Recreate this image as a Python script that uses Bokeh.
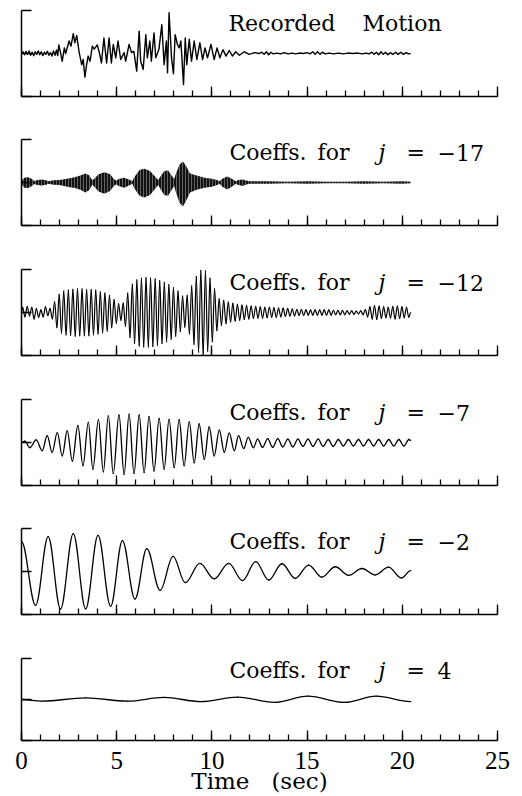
import numpy as np
from bokeh.plotting import figure
from bokeh.layouts import column
from bokeh.models import (Range1d, FixedTicker, SingleIntervalTicker, Label,
                          ColumnDataSource, CustomLabelingPolicy)
from bokeh.embed import file_html
from bokeh.resources import INLINE

# ---------------------------------------------------------------- data
# Recorded ground motion (time in s, normalised amplitude)
MOTION_T = [0.00, 0.08, 0.16, 0.24, 0.32, 0.40, 0.48, 0.56, 0.64, 0.72, 0.80, 0.88, 0.96,
            1.04, 1.12, 1.20, 1.28, 1.36, 1.44, 1.52, 1.60, 1.68, 1.76, 1.84, 1.90,
            1.96, 2.05, 2.14, 2.25, 2.32, 2.50, 2.60, 2.72, 2.80, 2.90, 3.02, 3.16, 3.24,
            3.33, 3.42, 3.50, 3.60, 3.72, 3.82, 3.98, 4.10, 4.20, 4.33, 4.47, 4.60, 4.72,
            4.82, 4.95, 5.07, 5.21, 5.39, 5.47, 5.65, 5.78, 5.90, 6.05, 6.18, 6.26, 6.39,
            6.53, 6.61, 6.74, 6.82, 6.96, 7.05, 7.22, 7.37, 7.49, 7.61, 7.67, 7.75, 7.88,
            7.98, 8.07, 8.19, 8.28, 8.37, 8.51, 8.60, 8.68, 8.81, 8.93, 9.07, 9.21, 9.37,
            9.51, 9.64, 9.77, 9.95, 10.12, 10.27, 10.42, 10.58, 10.74, 10.91, 11.08, 11.25,
            11.44, 11.70, 11.96, 12.23, 12.50, 12.62, 12.74, 12.86, 12.98, 13.10, 13.22,
            13.40, 13.60, 13.80, 14.00, 14.20, 14.40, 14.60, 14.80, 15.00, 15.15, 15.30,
            15.42, 15.55, 15.68, 15.80, 15.95, 16.15, 16.40, 16.65, 16.90, 17.15, 17.40,
            17.65, 17.90, 18.10, 18.25, 18.40, 18.52, 18.64, 18.76, 18.88, 19.00, 19.12,
            19.24, 19.36, 19.50, 19.65, 19.78, 19.92, 20.06, 20.20, 20.32, 20.44]
MOTION_V = [0.00, 0.04, -0.03, 0.05, -0.02, 0.06, -0.04, 0.03, -0.05, 0.04, -0.02, 0.06, -0.03,
            0.04, -0.05, 0.03, -0.02, 0.05, -0.04, 0.02, -0.06, 0.06, -0.04, 0.08, -0.05,
            0.20, 0.02, -0.18, 0.13, 0.00, 0.29, 0.17, 0.46, 0.25, 0.42, 0.05, -0.26, -0.14,
            -0.55, -0.26, -0.06, -0.18, 0.17, 0.10, 0.20, 0.00, -0.22, 0.36, -0.22, 0.36, -0.22,
            0.21, -0.10, 0.29, -0.14, 0.02, -0.18, 0.21, 0.02, 0.05, -0.41, 0.52, -0.18, -0.37,
            0.44, -0.10, 0.29, -0.18, 0.48, -0.10, 0.10, 0.67, -0.26, 0.29, -0.45, 0.95, -0.10,
            -0.47, 0.44, 0.21, 0.13, 0.29, -0.72, 0.36, -0.26, 0.33, -0.18, 0.29, -0.14, 0.25,
            -0.14, 0.13, -0.10, 0.21, -0.14, 0.13, -0.10, 0.09, -0.06, 0.07, -0.06, 0.04,
            -0.04, 0.04, -0.02, 0.02, 0.00, 0.03, -0.02, 0.04, -0.03, 0.03, -0.01,
            0.01, -0.01, 0.02, -0.01, 0.01, -0.01, 0.01, 0.00, 0.02, -0.01, 0.04,
            -0.02, 0.04, -0.02, 0.03, -0.01, 0.01, -0.01, 0.01, -0.01, 0.01, 0.00,
            0.01, -0.01, 0.01, -0.01, 0.03, -0.02, 0.03, -0.03, 0.04, -0.02, 0.03,
            -0.03, 0.02, -0.02, 0.03, -0.02, 0.03, -0.02, 0.02, -0.01, 0.00]

# j = -17: envelope of the (unresolvable) fast oscillation
J17_T = [0.00, 0.15, 0.35, 0.55, 0.68, 0.78, 1.05, 1.30, 1.40, 1.70, 2.00, 2.40, 2.80,
         3.10, 3.35, 3.55, 3.72, 3.85, 4.05, 4.35, 4.65, 4.85, 4.98, 5.10, 5.40, 5.70,
         5.82, 5.95, 6.20, 6.45, 6.75, 7.05, 7.18, 7.30, 7.50, 7.70, 7.90, 8.02, 8.10,
         8.30, 8.48, 8.65, 8.85, 9.20, 9.60, 10.00, 10.30, 10.40, 10.55, 10.80, 11.05,
         11.25, 11.35, 11.60, 11.85, 12.00, 13.00, 14.00, 15.00, 16.00, 17.00, 18.00,
         19.00, 20.00, 20.44]
J17_UPPER = [0.04, 0.11, 0.12, 0.08, 0.03, 0.05, 0.07, 0.05, 0.03, 0.05,
             0.06, 0.09, 0.12, 0.16, 0.21, 0.17, 0.05, 0.10, 0.19, 0.24,
             0.19, 0.08, 0.04, 0.08, 0.11, 0.06, 0.03, 0.14, 0.29, 0.32,
             0.27, 0.12, 0.06, 0.14, 0.27, 0.28, 0.15, 0.08, 0.19, 0.42,
             0.49, 0.38, 0.21, 0.16, 0.11, 0.09, 0.05, 0.03, 0.09, 0.14,
             0.09, 0.03, 0.05, 0.07, 0.04, 0.03, 0.03, 0.02, 0.03, 0.02,
             0.02, 0.03, 0.02, 0.03, 0.02]
J17_LOWER = [-0.04, -0.12, -0.13, -0.08, -0.03, -0.05, -0.07, -0.05, -0.03, -0.05,
             -0.06, -0.10, -0.13, -0.17, -0.23, -0.18, -0.05, -0.11, -0.21, -0.26,
             -0.20, -0.08, -0.04, -0.08, -0.12, -0.06, -0.03, -0.15, -0.31, -0.35,
             -0.29, -0.13, -0.06, -0.15, -0.29, -0.31, -0.16, -0.08, -0.21, -0.47,
             -0.56, -0.42, -0.23, -0.17, -0.12, -0.10, -0.05, -0.03, -0.10, -0.16,
             -0.10, -0.03, -0.05, -0.08, -0.04, -0.03, -0.03, -0.02, -0.03, -0.02,
             -0.02, -0.03, -0.02, -0.03, -0.02]

# j = -12: successive peaks and troughs
J12_T = [0.00, 0.06, 0.18, 0.30, 0.42, 0.54, 0.66, 0.78, 0.90, 1.02, 1.14, 1.26, 1.38, 1.50,
         1.62, 1.74, 1.86, 1.98, 2.10,
         2.22, 2.34, 2.46, 2.58, 2.70, 2.82, 2.94, 3.06, 3.18, 3.30, 3.42, 3.54, 3.66, 3.78,
         3.90, 4.02, 4.14, 4.26, 4.38, 4.50,
         4.62, 4.74, 4.86, 4.98, 5.10, 5.22,
         5.34, 5.46, 5.58, 5.70,
         5.82, 5.94, 6.06, 6.18, 6.30, 6.42, 6.54, 6.66, 6.78, 6.90, 7.02, 7.14, 7.26, 7.38,
         7.50, 7.62, 7.74, 7.86, 7.98, 8.10,
         8.22, 8.34, 8.46, 8.58, 8.70,
         8.82, 8.94, 9.06, 9.18, 9.30, 9.42, 9.54, 9.66, 9.78, 9.90, 10.02, 10.14, 10.26,
         10.38, 10.50, 10.62, 10.74, 10.86, 10.98, 11.10, 11.22, 11.34,
         11.46, 11.58, 11.70, 11.82, 11.94, 12.06, 12.18, 12.30, 12.42, 12.54, 12.66, 12.78,
         12.90, 13.02, 13.14, 13.26, 13.38, 13.50, 13.62, 13.74, 13.86,
         13.98, 14.10, 14.22, 14.34, 14.46, 14.58, 14.70, 14.82, 14.94, 15.06, 15.18, 15.30,
         15.42, 15.54, 15.66, 15.78, 15.90, 16.02, 16.14, 16.26, 16.38, 16.50, 16.62, 16.74,
         16.86, 16.98, 17.10, 17.22, 17.34, 17.46, 17.58, 17.70, 17.82,
         17.94, 18.06, 18.18, 18.30, 18.42, 18.54, 18.66, 18.78, 18.90, 19.02, 19.14, 19.26,
         19.38, 19.50, 19.62, 19.74, 19.86, 19.98, 20.10, 20.22, 20.34, 20.44]
J12_V = [0.00, 0.12, -0.10, 0.14, -0.08, 0.12, -0.15, 0.09, -0.11, 0.06, -0.10, 0.13, -0.07, 0.09,
         -0.15, 0.25, -0.35, 0.42, -0.48,
         0.50, -0.52, 0.52, -0.53, 0.54, -0.55, 0.55, -0.54, 0.55, -0.54, 0.53, -0.54, 0.53, -0.52,
         0.52, -0.50, 0.48, -0.47, 0.45, -0.43,
         0.40, -0.35, 0.30, -0.25, 0.20, -0.18,
         0.22, -0.32, 0.45, -0.58,
         0.66, -0.72, 0.76, -0.78, 0.80, -0.80, 0.81, -0.80, 0.80, -0.79, 0.78, -0.76, 0.74, -0.72,
         0.70, -0.68, 0.65, -0.62, 0.58, -0.55,
         0.50, -0.44, 0.38, -0.34, 0.40,
         -0.50, 0.62, -0.74, 0.84, -0.92, 0.98, -1.00, 0.97, -0.90, 0.80, -0.68, 0.55, -0.42,
         0.32, -0.30, 0.28, -0.26, 0.24, -0.22, 0.21, -0.20, 0.19,
         -0.18, 0.17, -0.16, 0.16, -0.15, 0.15, -0.14, 0.14, -0.13, 0.13, -0.13, 0.12,
         -0.12, 0.12, -0.11, 0.11, -0.11, 0.10, -0.10, 0.10, -0.09,
         0.09, -0.08, 0.08, -0.08, 0.07, -0.07, 0.07, -0.07, 0.06, -0.06, 0.06, -0.06,
         0.06, -0.06, 0.06, -0.06, 0.06, -0.06, 0.06, -0.06, 0.05, -0.05, 0.05, -0.05,
         0.05, -0.05, 0.04, -0.04, 0.04, -0.04, 0.03, -0.03, 0.04,
         -0.05, 0.07, -0.10, 0.13, -0.15, 0.16, -0.16, 0.15, -0.14, 0.13, -0.12, 0.12,
         -0.13, 0.14, -0.15, 0.15, -0.14, 0.13, -0.12, 0.12, -0.11, 0.00]

# j = -7: peaks and troughs
J7_T = [0.00, 0.18, 0.44, 0.77, 1.09, 1.35, 1.61, 1.88, 2.14, 2.40, 2.67, 2.96, 3.23, 3.51,
        3.75, 4.04, 4.30, 4.56, 4.82, 5.12, 5.39, 5.65, 5.91, 6.18, 6.44, 6.70, 6.96, 7.23,
        7.49, 7.75, 8.02, 8.28, 8.54, 8.81, 9.07, 9.33, 9.60, 9.86, 10.12, 10.39, 10.65,
        10.91, 11.18, 11.40, 11.67, 11.91, 12.18, 12.40, 12.66, 12.93, 13.19, 13.46, 13.72,
        13.99, 14.25, 14.52, 14.78, 15.05, 15.31, 15.58, 15.84, 16.11, 16.37, 16.64, 16.90,
        17.17, 17.43, 17.70, 17.96, 18.23, 18.49, 18.76, 19.02, 19.29, 19.55, 19.82, 20.08,
        20.35, 20.44]
J7_V = [0.00, 0.03, -0.12, 0.06, -0.19, 0.16, -0.23, 0.23, -0.31, 0.27, -0.43, 0.39, -0.54, 0.47,
        -0.62, 0.53, -0.68, 0.62, -0.72, 0.64, -0.74, 0.66, -0.72, 0.64, -0.70, 0.60, -0.66, 0.56,
        -0.62, 0.54, -0.58, 0.53, -0.54, 0.48, -0.47, 0.43, -0.39, 0.36, -0.31, 0.29, -0.23,
        0.22, -0.19, 0.16, -0.14, 0.12, -0.12, 0.08, -0.11, 0.09, -0.11, 0.09, -0.10,
        0.08, -0.10, 0.08, -0.09, 0.08, -0.09, 0.08, -0.09, 0.07, -0.09, 0.07, -0.08,
        0.07, -0.08, 0.07, -0.08, 0.07, -0.08, 0.07, -0.08, 0.07, -0.08, 0.07, -0.08,
        0.07, 0.05]

# j = -2: peaks and troughs
J2_T = [0.00, 0.74, 1.40, 2.05, 2.72, 3.37, 4.02, 4.68, 5.30, 5.96, 6.58, 7.28, 7.96, 8.60,
        9.37, 10.12, 10.88, 11.61, 12.30, 12.98, 13.68, 14.38, 15.08, 15.78, 16.48, 17.18,
        17.88, 18.58, 19.28, 19.95, 20.44]
J2_V = [0.70, -0.79, 0.81, -0.87, 0.88, -0.87, 0.84, -0.81, 0.72, -0.64, 0.53, -0.44, 0.35,
        -0.26, 0.19, -0.17, 0.19, -0.21, 0.23, -0.20, 0.18, -0.16, 0.15, -0.13, 0.11, -0.09,
        0.07, -0.08, 0.10, -0.15, 0.02]

# j = 4: peaks and troughs
J4_T = [0.00, 1.09, 3.37, 5.56, 7.49, 9.42, 11.35, 13.28, 15.04, 16.96, 18.63, 20.44]
J4_V = [0.00, -0.04, 0.04, -0.04, 0.05, -0.05, 0.06, -0.07, 0.08, -0.07, 0.08, -0.05]

LEVEL_LABELS = ["\u221217", "\u221212", "\u22127", "\u22122", "4"]
TITLE_TOP = ["Recorded", "Motion"]
X_TITLE = "Time\u00a0\u00a0\u00a0(sec)"

# ---------------------------------------------------------------- styling
FONT = "DejaVu Serif"
TICK_FONT = "Liberation Serif"
CAPTION_SIZE = "22px"
FRAME_H = 86
HALF_H = FRAME_H / 2.0
PX_PER_S = 476 / 25.0

NO_LABELS = CustomLabelingPolicy(code="return []")


def px_to_t(px):
    return (px - 21) / PX_PER_S


CAPTION_Y = 1 - 13 / HALF_H


def make_panel(border_top, border_bottom, last=False):
    p = figure(width=522, height=border_top + FRAME_H + border_bottom,
               x_range=Range1d(0, 25), y_range=Range1d(-1, 1),
               output_backend="svg", toolbar_location=None,
               min_border_left=21, min_border_right=25,
               min_border_top=border_top, min_border_bottom=border_bottom)
    p.outline_line_color = None
    p.xgrid.visible = False
    p.ygrid.visible = False

    xa = p.xaxis[0]
    xa.ticker = SingleIntervalTicker(interval=5, num_minor_ticks=5)
    xa.major_tick_in = 10
    xa.major_tick_out = 0
    xa.minor_tick_in = 6
    xa.minor_tick_out = 0
    xa.axis_line_width = 1.5
    xa.major_tick_line_width = 1.3
    xa.minor_tick_line_width = 1.3
    xa.axis_line_color = "black"
    xa.major_tick_line_color = "black"
    xa.minor_tick_line_color = "black"
    if last:
        xa.major_label_text_font = TICK_FONT
        xa.major_label_text_font_size = "25px"
        xa.major_label_text_color = "black"
        xa.major_label_standoff = 11
        xa.axis_label = X_TITLE
        xa.axis_label_text_font = FONT
        xa.axis_label_text_font_size = "23px"
        xa.axis_label_text_font_style = "normal"
        xa.axis_label_text_color = "black"
        xa.axis_label_standoff = -4
    else:
        xa.major_label_policy = NO_LABELS

    ya = p.yaxis[0]
    ya.ticker = FixedTicker(ticks=[-1, 0, 1], minor_ticks=[])
    ya.major_tick_in = 10
    ya.major_tick_out = 0
    ya.minor_tick_in = 0
    ya.minor_tick_out = 0
    ya.axis_line_width = 1.5
    ya.major_tick_line_width = 1.3
    ya.axis_line_color = "black"
    ya.major_tick_line_color = "black"
    ya.major_label_policy = NO_LABELS
    return p


def caption(p, words):
    for px, text, style in words:
        p.add_layout(Label(x=px_to_t(px), y=CAPTION_Y, text=text, text_font=FONT,
                           text_font_size=CAPTION_SIZE, text_font_style=style,
                           text_baseline="alphabetic", text_align="left",
                           text_color="black"))


def coeff_caption(p, level):
    caption(p, [(229, "Coeffs.", "normal"), (317, "for", "normal"),
                (378, "j", "italic"), (406, "=", "normal"), (437, level, "normal")])


K = 0.364  # cubic control offset giving a half-sine between extrema


def smooth_wave(p, t, v, width=1.3):
    t = np.asarray(t, dtype=float)
    v = np.asarray(v, dtype=float)
    dt = np.diff(t)
    src = ColumnDataSource(dict(x0=t[:-1], y0=v[:-1], x1=t[1:], y1=v[1:],
                                cx0=t[:-1] + K * dt, cy0=v[:-1],
                                cx1=t[1:] - K * dt, cy1=v[1:]))
    p.bezier(x0="x0", y0="y0", x1="x1", y1="y1", cx0="cx0", cy0="cy0",
             cx1="cx1", cy1="cy1", source=src, line_color="black",
             line_width=width, line_cap="round")


# ---------------------------------------------------------------- panels
p1 = make_panel(10, 34)
p1.line(MOTION_T, MOTION_V, line_color="black", line_width=1.4, line_join="round")
caption(p1, [(228, TITLE_TOP[0], "normal"), (362, TITLE_TOP[1], "normal")])

p2 = make_panel(9, 35)
p2.varea(x=J17_T, y1=J17_LOWER, y2=J17_UPPER, fill_color="#111111",
         hatch_pattern="vertical_line", hatch_color="white", hatch_alpha=0.35,
         hatch_scale=3, hatch_weight=1)
coeff_caption(p2, LEVEL_LABELS[0])

p3 = make_panel(9, 35)
smooth_wave(p3, J12_T, J12_V, 1.2)
coeff_caption(p3, LEVEL_LABELS[1])

p4 = make_panel(9, 35)
smooth_wave(p4, J7_T, J7_V)
coeff_caption(p4, LEVEL_LABELS[2])

p5 = make_panel(8, 36)
smooth_wave(p5, J2_T, J2_V)
coeff_caption(p5, LEVEL_LABELS[3])

p6 = make_panel(8, 52, last=True)
smooth_wave(p6, J4_T, J4_V)
coeff_caption(p6, LEVEL_LABELS[4])

layout = column(p1, p2, p3, p4, p5, p6, spacing=0)

with open("out.html", "w") as f:
    f.write(file_html(layout, INLINE))
